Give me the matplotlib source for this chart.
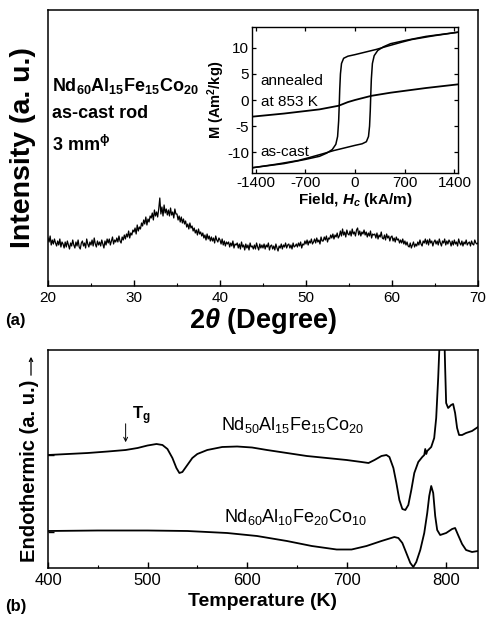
import numpy as np
import matplotlib
matplotlib.use("Agg")
import matplotlib.pyplot as plt

plt.rcParams['font.family'] = ['Liberation Sans', 'DejaVu Sans']
plt.rcParams['mathtext.fontset'] = 'custom'
plt.rcParams['mathtext.rm'] = 'Liberation Sans'
plt.rcParams['mathtext.it'] = 'Liberation Sans:italic:bold'
plt.rcParams['mathtext.bf'] = 'Liberation Sans:bold'
plt.rcParams['axes.unicode_minus'] = False

# ---------------- data: XRD (a) ----------------
two_theta = np.arange(20.0, 70.001, 0.125)
xrd_intensity = [
    48, 44, 50, 41, 46, 42, 47, 43,
    40, 45, 41, 47, 39, 44, 42, 38,
    44, 39, 45, 41, 37, 43, 40, 46,
    41, 38, 44, 40, 46, 39, 37, 43,
    45, 40, 43, 38, 47, 42, 39, 44,
    41, 46, 40, 48, 42, 39, 45, 41,
    44, 40, 46, 42, 38, 45, 41, 47,
    43, 47, 41, 45, 49, 42, 46, 44,
    48, 44, 50, 45, 43, 49, 46, 51,
    47, 52, 49, 55, 48, 53, 51, 56,
    54, 58, 52, 61, 55, 59, 57, 63,
    60, 66, 62, 69, 61, 67, 64, 70,
    68, 73, 66, 76, 70, 74, 69, 77,
    88, 72, 79, 70, 81, 73, 77, 71,
    76, 70, 78, 71, 74, 68, 77, 72,
    72, 66, 70, 64, 69, 63, 67, 62,
    65, 59, 62, 57, 63, 58, 60, 55,
    58, 53, 56, 51, 57, 52, 54, 50,
    53, 48, 51, 46, 52, 47, 50, 45,
    49, 45, 48, 43, 50, 46, 44, 48,
    46, 42, 47, 41, 45, 40, 44, 42,
    44, 39, 43, 40, 45, 38, 42, 41,
    43, 38, 42, 37, 44, 39, 41, 36,
    42, 38, 41, 36, 43, 39, 40, 37,
    41, 37, 43, 39, 36, 42, 38, 41,
    38, 42, 37, 41, 39, 43, 36, 40,
    41, 37, 40, 36, 42, 38, 35, 40,
    38, 42, 37, 41, 39, 43, 38, 41,
    42, 38, 41, 37, 43, 39, 40, 42,
    39, 43, 40, 44, 38, 42, 41, 45,
    42, 46, 41, 45, 43, 47, 42, 44,
    47, 43, 48, 44, 46, 42, 49, 45,
    45, 49, 46, 50, 44, 48, 47, 51,
    48, 52, 47, 51, 49, 53, 48, 50,
    55, 50, 57, 51, 54, 49, 56, 52,
    51, 55, 50, 57, 52, 54, 50, 56,
    58, 51, 55, 50, 54, 52, 56, 51,
    54, 49, 53, 50, 55, 48, 52, 51,
    52, 48, 53, 47, 51, 49, 54, 48,
    47, 51, 46, 52, 48, 50, 45, 49,
    50, 45, 48, 44, 49, 46, 47, 43,
    46, 43, 47, 42, 45, 41, 44, 40,
    39, 43, 38, 41, 44, 39, 42, 40,
    44, 41, 46, 42, 40, 45, 43, 47,
    42, 46, 41, 47, 43, 45, 40, 44,
    46, 42, 45, 41, 47, 43, 40, 45,
    43, 47, 41, 45, 42, 46, 44, 40,
    45, 41, 46, 42, 44, 40, 47, 43,
    41, 45, 40, 44, 42, 46, 41, 43,
    44, 40, 45, 42, 41, 46, 43, 42,
    43,
]

# ---------------- data: hysteresis inset ----------------
field_desc = [1450, 1100, 800, 660, 450, 300, 150, 0, -100, -160, -190, -205,
              -215, -222, -230, -245, -270, -320, -400, -500, -600, -700, -1000, -1450]
m_desc = [13.0, 12.3, 11.6, 11.1, 10.3, 9.7, 9.2, 8.7, 8.4, 8.0, 7.0, 5.0,
          2.0, -1.0, -4.0, -7.0, -8.5, -9.5, -10.2, -10.8, -11.1, -11.4, -12.2, -13.0]
field_asc = [-1450, -1100, -800, -660, -450, -300, -150, 0, 100, 160, 190, 205,
             215, 222, 230, 245, 270, 320, 400, 500, 600, 700, 1000, 1450]
m_asc = [-13.0, -12.3, -11.6, -11.1, -10.3, -9.7, -9.2, -8.7, -8.4, -8.0, -7.0, -5.0,
         -2.0, 1.0, 4.0, 7.0, 8.5, 9.5, 10.2, 10.8, 11.1, 11.4, 12.2, 13.0]
field_ann = [-1450, -1000, -500, -230, -100, 0, 100, 230, 500, 1000, 1450]
m_ann = [-3.2, -2.6, -1.8, -1.1, -0.4, 0.0, 0.35, 0.8, 1.4, 2.3, 3.0]

# ---------------- data: DSC (b) ----------------
temp_50 = [400, 420, 440, 460, 478, 490, 500, 509, 515, 520, 525, 529, 532, 535,
           540, 545, 550, 560, 575, 590, 605, 620, 640, 660, 680, 700, 715, 722,
           728, 735, 740, 743, 747, 750, 753, 756, 759, 762, 765, 768, 772, 776,
           778, 779, 780, 781, 785, 788, 790, 792, 794, 796, 798, 799, 800, 802,
           805, 807, 809, 811, 813, 816, 820, 826, 832]
dsc_50 = [113, 114, 115, 116.5, 118, 120, 122.5, 124, 123, 119, 110, 100, 95, 96,
          103, 110, 114, 118, 121, 121.5, 120.5, 118, 115, 112, 110, 108, 106, 105,
          108, 112, 113, 111, 100, 85, 68, 59, 58, 63, 78, 95, 106, 111,
          113, 119, 114, 117, 121, 130, 150, 190, 240, 260, 240, 200, 165, 160,
          163, 164, 155, 140, 133, 133, 135, 137, 141]
temp_60 = [400, 450, 500, 540, 580, 610, 640, 665, 690, 705, 720, 735, 748, 752,
           756, 760, 764, 767, 770, 774, 778, 781, 783, 785, 787, 789, 791, 794,
           800, 806, 809, 812, 816, 820, 826, 832]
dsc_60 = [37, 37.5, 37.5, 37, 35, 32, 27, 22, 18.5, 18.5, 22, 27, 31, 30,
          25, 15, 5, 1, 6, 18, 35, 55, 72, 82, 75, 52, 38, 33,
          35, 39, 40, 33, 24, 18, 16, 17]
baseline_ticks = [36, 113]

W, H = 486, 620
fig = plt.figure(figsize=(W / 100, H / 100), dpi=100)

def ax_rect(l, t, r, b):
    return [l / W, 1 - b / H, (r - l) / W, (b - t) / H]

# ---------------- panel (a) ----------------
ax1 = fig.add_axes(ax_rect(48, 10, 478, 286))
ax1.plot(two_theta, xrd_intensity, color='black', lw=0.9)
ax1.set_xlim(20, 70)
ax1.set_ylim(0, 276)
ax1.set_xticks([20, 30, 40, 50, 60, 70])
ax1.set_xticks([25, 35, 45, 55, 65], minor=True)
ax1.set_yticks([])
ax1.tick_params(axis='x', direction='in', labelsize=11, length=4, width=1)
ax1.tick_params(axis='x', which='minor', direction='in', length=2.5, width=0.8)
for s in ax1.spines.values():
    s.set_linewidth(1.1)
ax1.set_ylabel('Intensity (a. u.)', fontsize=20.5, fontweight='bold')
ax1.yaxis.set_label_coords(-0.027, 0.5)
ax1.set_xlabel(r'2$\mathit{\theta}$ (Degree)', fontsize=19.5, fontweight='bold', labelpad=1)
ax1.text(0.01, 0.725, r'Nd$_{\mathbf{60}}$Al$_{\mathbf{15}}$Fe$_{\mathbf{15}}$Co$_{\mathbf{20}}$',
         transform=ax1.transAxes, fontsize=13, fontweight='bold', va='center', ha='left')
ax1.text(0.01, 0.625, 'as-cast rod', transform=ax1.transAxes, fontsize=13,
         fontweight='bold', va='center', ha='left')
ax1.text(0.01, 0.51, r'3 mm$^{\mathbf{\phi}}$', transform=ax1.transAxes, fontsize=13,
         fontweight='bold', va='center', ha='left')
fig.text(5 / W, 1 - 321 / H, '(a)', fontsize=12, fontweight='bold', va='center', ha='left')

# ---------------- inset ----------------
axi = fig.add_axes(ax_rect(252, 27, 458, 173))
axi.plot(field_desc, m_desc, color='black', lw=1.1)
axi.plot(field_asc, m_asc, color='black', lw=1.1)
axi.plot(field_ann, m_ann, color='black', lw=1.3)
axi.set_xlim(-1450, 1450)
axi.set_ylim(-14, 14)
axi.set_xticks([-1400, -700, 0, 700, 1400])
axi.set_yticks([-10, -5, 0, 5, 10])
axi.tick_params(direction='in', labelsize=11, length=3, width=0.9, top=True, right=True, pad=2)
for s in axi.spines.values():
    s.set_linewidth(1.0)
axi.set_xlabel(r'Field, $H_{c}$ (kA/m)', fontsize=11, fontweight='bold', labelpad=1)
axi.set_ylabel(r'M (Am$^{\mathbf{2}}$/kg)', fontsize=10.5, fontweight='bold', labelpad=0)
axi.text(-1330, 3.6, 'annealed', fontsize=11, va='center', ha='left')
axi.text(-1330, -0.4, 'at 853 K', fontsize=11, va='center', ha='left')
axi.text(-1330, -9.9, 'as-cast', fontsize=11, va='center', ha='left')

# ---------------- panel (b) ----------------
ax2 = fig.add_axes(ax_rect(48, 350, 478, 568))
ax2.plot(temp_50, dsc_50, color='black', lw=1.3)
ax2.plot(temp_60, dsc_60, color='black', lw=1.3)
ax2.set_xlim(400, 832)
ax2.set_ylim(0, 218)
ax2.set_xticks([400, 500, 600, 700, 800])
ax2.set_xticks([450, 550, 650, 750], minor=True)
ax2.set_yticks(baseline_ticks)
ax2.set_yticklabels([])
ax2.tick_params(axis='y', direction='in', length=4, width=1)
ax2.tick_params(axis='x', direction='in', labelsize=12, length=4, width=1)
ax2.tick_params(axis='x', which='minor', direction='in', length=2.5, width=0.8)
for s in ax2.spines.values():
    s.set_linewidth(1.1)
ax2.set_xlabel('Temperature (K)', fontsize=14, fontweight='bold', labelpad=4)
ax2.set_ylabel('Endothermic (a. u.)', fontsize=14.5, fontweight='bold')
ax2.yaxis.set_label_coords(-0.021, 0.5)
ax2.yaxis.label.set_y((568 - 471) / 218)
fig.add_artist(matplotlib.patches.FancyArrowPatch(
    (31 / W, 1 - 378 / H), (31 / W, 1 - 354 / H), transform=fig.transFigure,
    arrowstyle='->', mutation_scale=6, lw=0.9, color='black'))
ax2.annotate('', xy=(478, 123), xytext=(478, 147),
             arrowprops=dict(arrowstyle='->', color='black', lw=0.7, mutation_scale=7))
ax2.text(484, 152, r'T$_{\mathbf{g}}$', fontsize=12, fontweight='bold', va='center', ha='left')
ax2.text(574, 143, r'Nd$_{50}$Al$_{15}$Fe$_{15}$Co$_{20}$', fontsize=13, va='center', ha='left')
ax2.text(577, 51, r'Nd$_{60}$Al$_{10}$Fe$_{20}$Co$_{10}$', fontsize=13, va='center', ha='left')
fig.text(5 / W, 1 - 607 / H, '(b)', fontsize=12, fontweight='bold', va='center', ha='left')

fig.savefig('out.png', dpi=100)
